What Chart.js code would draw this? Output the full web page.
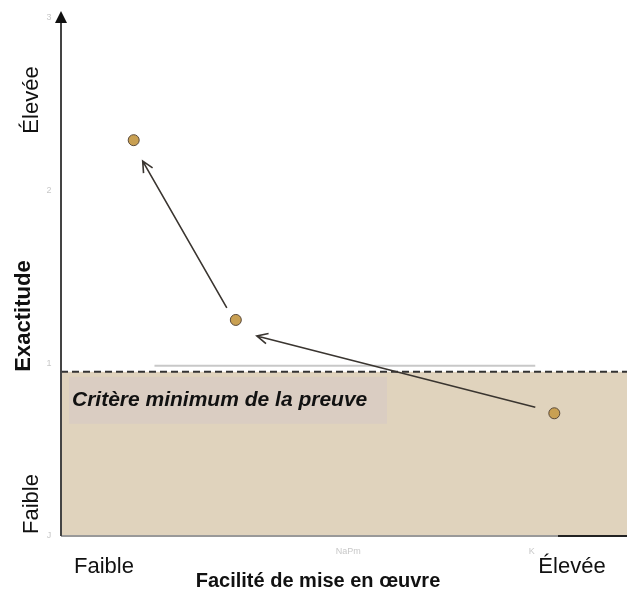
<!DOCTYPE html>
<html>
<head>
<meta charset="utf-8">
<script src="https://cdn.jsdelivr.net/npm/chart.js@4"></script>
<style>
  html, body { margin: 0; padding: 0; background: #fff; overflow: hidden; }
  #graphe { display: block; }
</style>
</head>
<body>
<canvas id="graphe" width="627" height="591"></canvas>
<script>
// données
const facilite = [0.42, 1.01, 2.85];
const exactitude = [2.29, 1.25, 0.71];
const seuilPreuve = 0.95;
const ticksY = ['J', '1', '2', '3'];
const libellesX = ['Faible', 'Élevée'];
const libellesY = ['Faible', 'Élevée'];
const titreX = 'Facilité de mise en œuvre';
const titreY = 'Exactitude';
const texteCritere = 'Critère minimum de la preuve';

const points = facilite.map((x, i) => ({ x: x, y: exactitude[i] }));

function fleche(ctx, x1, y1, x2, y2) {
    const a = Math.atan2(y2 - y1, x2 - x1);
    ctx.beginPath();
    ctx.moveTo(x1, y1);
    ctx.lineTo(x2, y2);
    ctx.moveTo(x2 - 12 * Math.cos(a - 0.45), y2 - 12 * Math.sin(a - 0.45));
    ctx.lineTo(x2, y2);
    ctx.lineTo(x2 - 12 * Math.cos(a + 0.45), y2 - 12 * Math.sin(a + 0.45));
    ctx.stroke();
}

const fond = {
    id: 'fond',
    beforeDatasetsDraw(chart) {
        const { ctx, chartArea: a, scales: { x, y } } = chart;
        const ys = y.getPixelForValue(seuilPreuve);
        ctx.save();
        // zone sous le critère
        ctx.fillStyle = '#e0d3bd';
        ctx.fillRect(a.left, ys, a.right - a.left, a.bottom - ys);
        // boîte du libellé
        ctx.fillStyle = '#dacdc2';
        ctx.fillRect(a.left + 8, ys + 5, 318, 47);
        ctx.fillStyle = '#111';
        ctx.font = 'italic bold 21px "Liberation Sans", Arial, sans-serif';
        ctx.textBaseline = 'middle';
        ctx.fillText(texteCritere, a.left + 11, ys + 28);
        // ligne grise au-dessus
        ctx.strokeStyle = '#c8c8c8';
        ctx.lineWidth = 2;
        ctx.beginPath();
        ctx.moveTo(x.getPixelForValue(0.54), ys - 6);
        ctx.lineTo(x.getPixelForValue(2.74), ys - 6);
        ctx.stroke();
        // ligne pointillée
        ctx.strokeStyle = '#333';
        ctx.lineWidth = 2;
        ctx.setLineDash([7, 4]);
        ctx.beginPath();
        ctx.moveTo(a.left, ys);
        ctx.lineTo(a.right, ys);
        ctx.stroke();
        ctx.setLineDash([]);
        // axe x
        ctx.strokeStyle = '#999';
        ctx.lineWidth = 2;
        ctx.beginPath();
        ctx.moveTo(a.left, a.bottom);
        ctx.lineTo(a.right, a.bottom);
        ctx.stroke();
        ctx.strokeStyle = '#222';
        ctx.beginPath();
        ctx.moveTo(a.right - 69, a.bottom);
        ctx.lineTo(a.right, a.bottom);
        ctx.stroke();
        // axe y
        ctx.strokeStyle = '#444';
        ctx.beginPath();
        ctx.moveTo(a.left, a.bottom);
        ctx.lineTo(a.left, a.top + 4);
        ctx.stroke();
        ctx.fillStyle = '#111';
        ctx.beginPath();
        ctx.moveTo(a.left, a.top - 3);
        ctx.lineTo(a.left - 6, a.top + 9);
        ctx.lineTo(a.left + 6, a.top + 9);
        ctx.closePath();
        ctx.fill();
        // flèches entre les points
        ctx.strokeStyle = '#3a3530';
        ctx.lineWidth = 1.6;
        const px = i => x.getPixelForValue(facilite[i]);
        const py = i => y.getPixelForValue(exactitude[i]);
        fleche(ctx, px(2) - 19, py(2) - 6, px(1) + 21, py(1) + 16);
        fleche(ctx, px(1) - 9, py(1) - 12, px(0) + 9, py(0) + 21);
        // graduations pâles
        ctx.fillStyle = '#c8c8c8';
        ctx.font = '9px "Liberation Sans", Arial, sans-serif';
        ctx.textAlign = 'center';
        ticksY.forEach((t, i) => ctx.fillText(t, a.left - 12, y.getPixelForValue(i)));
        ctx.fillText('NaPm', x.getPixelForValue(1.66), a.bottom + 16);
        ctx.fillText('K', x.getPixelForValue(2.72), a.bottom + 16);
        // libellés axe x
        ctx.fillStyle = '#111';
        ctx.textBaseline = 'alphabetic';
        ctx.font = '22px "Liberation Sans", Arial, sans-serif';
        ctx.fillText(libellesX[0], 104, a.bottom + 37);
        ctx.fillText(libellesX[1], 572, a.bottom + 37);
        ctx.font = 'bold 20px "Liberation Sans", Arial, sans-serif';
        ctx.fillText(titreX, 318, a.bottom + 51);
        // libellés axe y
        ctx.save();
        ctx.translate(38, 0);
        ctx.rotate(-Math.PI / 2);
        ctx.font = '22px "Liberation Sans", Arial, sans-serif';
        ctx.fillText(libellesY[1], -100, 0);
        ctx.fillText(libellesY[0], -504, 0);
        ctx.restore();
        ctx.save();
        ctx.translate(30, 316);
        ctx.rotate(-Math.PI / 2);
        ctx.font = 'bold 22px "Liberation Sans", Arial, sans-serif';
        ctx.fillText(titreY, 0, 0);
        ctx.restore();
        ctx.restore();
    }
};

new Chart(document.getElementById('graphe'), {
    type: 'scatter',
    data: {
        datasets: [{
            data: points,
            backgroundColor: '#c9a052',
            borderColor: '#5a4a3a',
            borderWidth: 1,
            pointRadius: 5.5,
            pointHoverRadius: 5.5
        }]
    },
    options: {
        responsive: false,
        animation: false,
        layout: { autoPadding: false, padding: { left: 61, right: 0, top: 14, bottom: 55 } },
        plugins: { legend: { display: false }, tooltip: { enabled: false } },
        scales: {
            x: { display: false, min: 0, max: 3.27 },
            y: { display: false, min: 0, max: 3.02 }
        }
    },
    plugins: [fond]
});
</script>
</body>
</html>
